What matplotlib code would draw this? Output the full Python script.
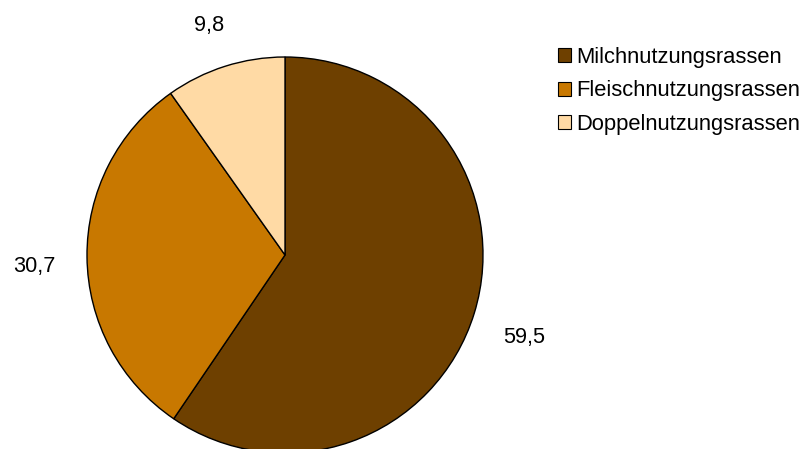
import matplotlib
matplotlib.use("Agg")
import matplotlib.pyplot as plt
from matplotlib.patches import Patch

plt.rcParams['font.family'] = ['Liberation Sans', 'DejaVu Sans']

categories = ["Milchnutzungsrassen", "Fleischnutzungsrassen", "Doppelnutzungsrassen"]
values = [59.5, 30.7, 9.8]
value_labels = ["59,5", "30,7", "9,8"]
colors = ["#6E4000", "#C87800", "#FFDAA5"]

W, H = 807, 449
fig = plt.figure(figsize=(W / 100, H / 100), dpi=100)
ax = fig.add_axes([0, 0, 1, 1])

wedges, texts = ax.pie(values, colors=colors, startangle=90, counterclock=False,
                       center=(285, H - 255), radius=198, labels=value_labels,
                       labeldistance=1.265, frame=True,
                       wedgeprops=dict(edgecolor='black', linewidth=1.0),
                       textprops=dict(fontsize=15.7, color='black'))
for t in texts:
    x, y = t.get_position()
    t.set_position((x, y - 9))
    t.set_ha('center')
    t.set_va('center')
ax.set_xlim(0, W)
ax.set_ylim(0, H)
ax.axis('off')

handles = [Patch(facecolor=c, edgecolor='black', linewidth=0.8) for c in colors]
fig.legend(handles, categories, loc='upper left', bbox_to_anchor=(558 / W, 1 - 47 / H),
           frameon=False, fontsize=15.8, handlelength=0.6, handleheight=0.6,
           handletextpad=0.25, labelspacing=0.56, borderpad=0, borderaxespad=0)

fig.savefig("out.png", dpi=100)
